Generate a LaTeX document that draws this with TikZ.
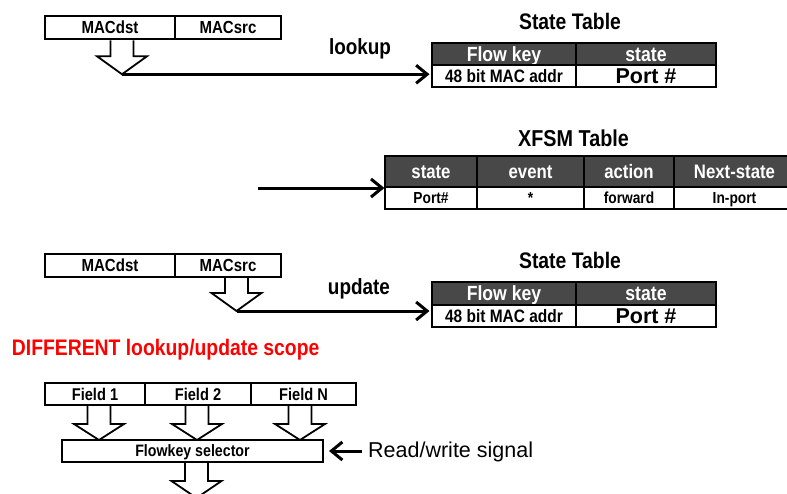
\documentclass[tikz,border=0pt]{standalone}
\usepackage{fontspec}
\setmainfont{Liberation Sans}[FakeStretch=0.86]
\newfontfamily\widefont{Liberation Sans}
\usetikzlibrary{arrows.meta,calc}
\definecolor{hdr}{RGB}{72,72,72}
\definecolor{alertred}{RGB}{255,0,0}
\newcommand\myfs[1]{\fontsize{#1}{#1}\selectfont}
\tikzset{
  fz/.style 2 args={font=\bfseries\myfs{#1}, text height=#2pt, text depth=0pt},
  cellbox/.style={draw, line width=2pt, inner sep=0pt, fz={17.5}{12.5}},
  hcell/.style={cellbox, fill=hdr, text=white, fz={20.5}{14.7}},
  rcell/.style={cellbox, fill=white},
  xhcell/.style={draw, line width=1.2pt, fill=hdr, text=white, inner sep=0pt, minimum height=31, fz={19.5}{14}},
  xrcell/.style={draw, line width=1.2pt, fill=white, inner sep=0pt, minimum height=22, fz={16}{11.5}},
  ttl/.style={inner sep=0pt, fz={22.5}{16.1}},
  lbl/.style={inner sep=0pt, fz={22}{15.75}},
  hol/.style={draw, line width=1.8pt, fill=white, line join=miter},
  conn/.style={line width=3pt, -{Straight Barb[length=11pt,width=18pt]}},
}
% hollow down arrow: #1 start coordinate, #2 neck length, #3 tip length, #4 tip coordinate name
\newcommand\hollowdown[4]{%
  \draw[hol] ($(#1)+(-11.5,0)$) -- ($(#1)+(-11.5,#2)$) -- ($(#1)+(-25,#2)$)
    -- ($(#1)+(0,#3)$) -- ($(#1)+(25,#2)$) -- ($(#1)+(11.5,#2)$) -- ($(#1)+(11.5,0)$);
  \coordinate (#4) at ($(#1)+(0,#3)$);}
\begin{document}
\begin{tikzpicture}[x=1pt,y=-1pt]
\useasboundingbox (0,0) rectangle (787,493);

% ---------- top: lookup ----------
\node[cellbox, minimum width=130, minimum height=23.5] (mdst1) at (110,27.5) {MACdst};
\node[cellbox, minimum width=106, minimum height=23.5] (msrc1) at (228,27.5) {MACsrc};
\coordinate (a1) at (122,0 |- mdst1.south);
\hollowdown{a1}{16}{34}{t1}

\node[ttl] (st1t) at (570,21.7) {State Table};
\node[hcell, minimum width=144, minimum height=22] (fk1) at (504,54) {Flow key};
\node[hcell, minimum width=140, minimum height=22] (sk1) at (646,54) {state};
\node[rcell, minimum width=144, minimum height=22, fz={18}{12.9}] (mac1) at (504,76) {48 bit MAC addr};
\node[rcell, minimum width=140, minimum height=22, fz={21.5}{15.4}, font=\bfseries\widefont\myfs{21.5}] (port1) at (646,76) {Port \#};

\node[lbl] (lk) at (360,46.3) {lookup};
\draw[conn, shorten >=1.5pt] (t1) -- (t1 -| mac1.west);

% ---------- XFSM table ----------
\node[ttl, fz={23}{16.5}] (xt) at (573.5,138.5) {XFSM Table};
\node[xhcell, minimum width=92] (xh1) at (431,171.5) {state};
\node[xhcell, minimum width=107] (xh2) at (530.5,171.5) {event};
\node[xhcell, minimum width=90] (xh3) at (629,171.5) {action};
\node[xhcell, minimum width=121] (xh4) at (734.5,171.5) {Next-state};
\node[xrcell, minimum width=92] (xr1) at (431,198) {Port\#};
\node[xrcell, minimum width=107] (xr2) at (530.5,198) {*};
\node[xrcell, minimum width=90] (xr3) at (629,198) {forward};
\node[xrcell, minimum width=121] (xr4) at (734.5,198) {In-port};
\coordinate (xin) at (258,188);
\draw[conn] (xin) -- (xin -| xh1.west);

% ---------- middle: update ----------
\node[cellbox, minimum width=130, minimum height=23] (mdst2) at (110,265.5) {MACdst};
\node[cellbox, minimum width=106, minimum height=23] (msrc2) at (228,265.5) {MACsrc};
\coordinate (a2) at (236.5,0 |- msrc2.south);
\hollowdown{a2}{15}{33}{t2}

\node[ttl] (st2t) at (570,260.7) {State Table};
\node[hcell, minimum width=144, minimum height=23] (fk2) at (504,293.5) {Flow key};
\node[hcell, minimum width=140, minimum height=23] (sk2) at (646,293.5) {state};
\node[rcell, minimum width=144, minimum height=22, fz={18}{12.9}] (mac2) at (504,316) {48 bit MAC addr};
\node[rcell, minimum width=140, minimum height=22, fz={21.5}{15.4}, font=\bfseries\widefont\myfs{21.5}] (port2) at (646,316) {Port \#};

\node[lbl] (up) at (359,286.3) {update};
\draw[conn, shorten >=1.5pt] (t2) -- (t2 -| mac2.west);

% ---------- bottom ----------
\node[inner sep=0pt, anchor=west, text=alertred, fz={22.5}{16.1}] (diff) at (11.7,347) {DIFFERENT lookup/update scope};

\node[cellbox, minimum width=100, minimum height=22, fz={17}{12.2}] (f1) at (95,394) {Field 1};
\node[cellbox, minimum width=106, minimum height=22, fz={17}{12.2}] (f2) at (198,394) {Field 2};
\node[cellbox, minimum width=105, minimum height=22, fz={17}{12.2}] (fn) at (303.5,394) {Field N};
\node[cellbox, minimum width=261, minimum height=22, fz={16.5}{11.8}] (fsel) at (192.5,451) {Flowkey selector};

\coordinate (b1) at (99,0 |- f1.south);
\coordinate (b2) at (197,0 |- f2.south);
\coordinate (b3) at (300,0 |- fn.south);
\hollowdown{b1}{18}{34}{u1}
\hollowdown{b2}{18}{34}{u2}
\hollowdown{b3}{18}{34}{u3}
\coordinate (b4) at (196.5,0 |- fsel.south);
\hollowdown{b4}{18}{35}{u4}

\node[inner sep=0pt, anchor=west, text height=15.4pt, text depth=0pt, font=\widefont\myfs{21.5}] (rw) at (368,450) {Read/write signal};
\draw[conn, shorten >=5pt] (rw.west |- fsel.east) ++(-6,0) -- (fsel.east);
\end{tikzpicture}
\end{document}
